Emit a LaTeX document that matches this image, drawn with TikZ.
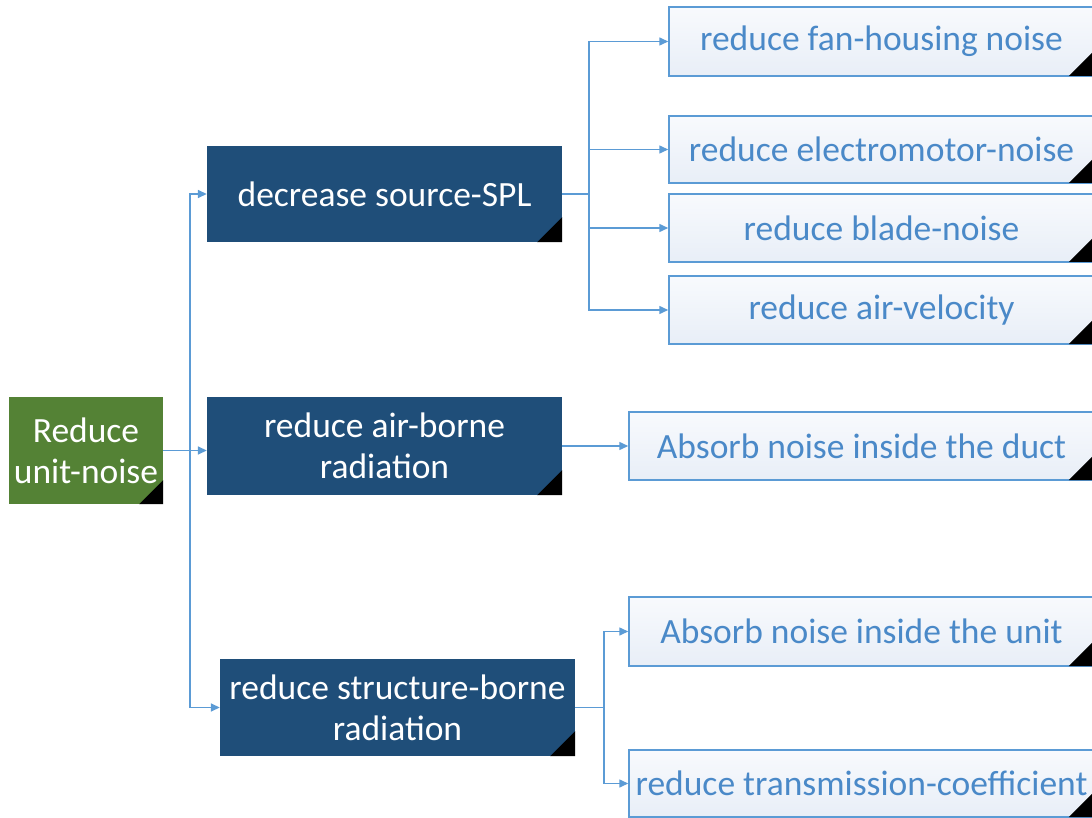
\documentclass[tikz,border=0pt]{standalone}
\usepackage{fontspec}
\setmainfont{Carlito}
\usetikzlibrary{arrows.meta}
\definecolor{dkblue}{HTML}{1F4E79}
\definecolor{grn}{HTML}{548235}
\definecolor{ltline}{HTML}{5B9BD5}
\definecolor{lttext}{HTML}{4A89C8}
\definecolor{ltfillA}{HTML}{F8FAFD}
\definecolor{ltfillB}{HTML}{E8EEF7}
\tikzset{
  x=1pt, y=-1pt,
  darkbox/.style={fill=dkblue, text=white, inner sep=0pt, align=center,
    font=\fontsize{35.5}{41}\selectfont},
  greenbox/.style={fill=grn, text=white, inner sep=0pt, align=center,
    font=\fontsize{35.5}{41}\selectfont, minimum width=154pt, minimum height=107pt},
  lightbox/.style={draw=ltline, line width=1.5pt, top color=ltfillA, bottom color=ltfillB,
    text=lttext, inner sep=0pt, align=center, font=\fontsize{35.5}{41}\selectfont},
  conn/.style={draw=ltline, line width=1.5pt},
  arr/.style={conn, -{Triangle[length=9pt,width=8pt]}},
  corner/.style={fill=black}
}
\begin{document}
\begin{tikzpicture}
\useasboundingbox (0,0) rectangle (1092,818);
\clip (0,0) rectangle (1092,818);
\fill[white] (0,0) rectangle (1092,818);

% root
\node[greenbox] (g) at (86,450.5) {Reduce\\unit-noise};
\fill[corner] (g.south east) -- ++(-24,0) -- ++(24,-24) -- cycle;

% level 1
\node[darkbox, minimum width=355pt, minimum height=96pt] (b1) at (384.5,194) {decrease source-SPL};
\node[darkbox, minimum width=355pt, minimum height=98pt] (b2) at (384.5,446) {reduce air-borne\\radiation};
\node[darkbox, minimum width=355pt, minimum height=97pt] (b3) at (397.5,707.5) {reduce structure-borne\\radiation};
\foreach \b in {b1,b2,b3}{
  \fill[corner] (\b.south east) -- ++(-25,0) -- ++(25,-25) -- cycle;
}

% level 2
\node[lightbox, minimum width=425pt, minimum height=69pt] (l1) at (881.5,41.5) {reduce fan-housing noise};
\node[lightbox, minimum width=425pt, minimum height=67pt] (l2) at (881.5,149.5) {reduce electromotor-noise};
\node[lightbox, minimum width=425pt, minimum height=68pt] (l3) at (881.5,228) {reduce blade-noise};
\node[lightbox, minimum width=425pt, minimum height=68pt] (l4) at (881.5,310) {reduce air-velocity};
\node[lightbox, minimum width=465pt, minimum height=68pt] (l5) at (861.5,446) {Absorb noise inside the duct};
\node[lightbox, minimum width=465pt, minimum height=69pt] (l6) at (861.5,631.5) {Absorb noise inside the unit};
\node[lightbox, minimum width=465pt, minimum height=67pt] (l7) at (861.5,783.5) {reduce transmission-coefficient};
\foreach \l in {l1,l2,l3,l4,l5,l6,l7}{
  \fill[corner] ([xshift=-2pt,yshift=0.75pt]\l.south east) -- ++(-24,0) -- ++(24,-24) -- cycle;
}

% connectors from root
\coordinate (j0) at (190,450.5);
\draw[conn] (g.east) -- (j0);
\draw[arr] (j0) |- (b1.west);
\draw[arr] (j0) -- (b2.west |- j0);
\draw[arr] (j0) |- (b3.west);

% connectors from b1
\coordinate (j1) at (589,194);
\draw[conn] (b1.east) -- (j1);
\draw[arr] (j1) |- (l1.west);
\draw[arr] (j1) |- (l2.west);
\draw[arr] (j1) |- (l3.west);
\draw[arr] (j1) |- (l4.west);

% b2
\draw[arr] (b2.east) -- (l5.west);

% b3
\coordinate (j3) at (604,707.5);
\draw[conn] (b3.east) -- (j3);
\draw[arr] (j3) |- (l6.west);
\draw[arr] (j3) |- (l7.west);
\end{tikzpicture}
\end{document}
